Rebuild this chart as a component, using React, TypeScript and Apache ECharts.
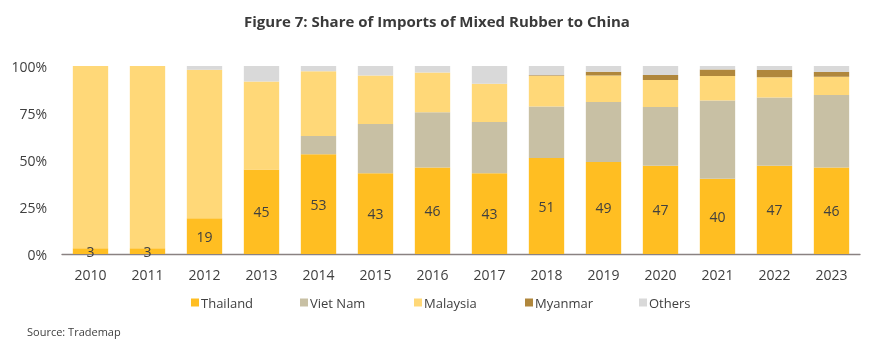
import React, { useEffect, useRef } from "react";
import * as echarts from "echarts";

const years = ["2010", "2011", "2012", "2013", "2014", "2015", "2016", "2017", "2018", "2019", "2020", "2021", "2022", "2023"];
const thailand = [3, 3, 19, 45, 53, 43, 46, 43, 51, 49, 47, 40, 47, 46];
const vietNam = [0, 0, 0, 0, 9.8, 26.1, 29.4, 27.2, 27.4, 31.9, 31.2, 41.7, 36.2, 38.6];
const malaysia = [97, 97, 79, 46.8, 34.4, 25.8, 21.1, 20.4, 16.3, 14.1, 14.4, 13, 10.8, 9.7];
const myanmar = [0, 0, 0, 0, 0, 0, 0, 0, 0.4, 2, 2.6, 3.5, 3.9, 2.5];
const others = [0, 0, 2, 8.2, 2.8, 5.1, 3.5, 9.4, 4.9, 3, 4.8, 1.8, 2.1, 3.2];
const seriesNames = ["Thailand", "Viet Nam", "Malaysia", "Myanmar", "Others"];
const yTicks = [0, 25, 50, 75, 100];

const FONT = "'Open Sans', sans-serif";
const TEXT = "#404040";
const legendLefts = [186, 295, 409, 520, 634];

export default function App() {
  const ref = useRef<HTMLDivElement>(null);
  useEffect(() => {
    if (!ref.current) return;
    const chart = echarts.init(ref.current, null, { renderer: "svg" });
    const mk = (name: string, data: number[], color: string, label = false) => ({
      name,
      type: "bar",
      stack: "total",
      data,
      barWidth: "62%",
      itemStyle: { color },
      label: label
        ? { show: true, position: "inside", color: TEXT, fontSize: 14, fontFamily: FONT }
        : { show: false },
      emphasis: { disabled: true },
    });
    chart.setOption({
      animation: false,
      textStyle: { fontFamily: FONT },
      title: {
        text: "Figure 7: Share of Imports of Mixed Rubber to China",
        left: 239,
        top: 8,
        textStyle: { fontFamily: FONT, fontSize: 15, fontWeight: "bold", color: "#3a3a3a" },
      },
      legend: seriesNames.map((n, i) => ({
        left: legendLefts[i],
        top: 291,
        itemWidth: 8,
        itemHeight: 8,
        icon: "rect",
        textStyle: { fontFamily: FONT, fontSize: 13, color: TEXT, padding: [0, 0, 0, -3] },
        data: [n],
      })),
      graphic: [
        {
          type: "text",
          left: 27,
          top: 326,
          style: { text: "Source: Trademap", fontFamily: FONT, fontSize: 11, fill: TEXT },
        },
      ],
      grid: { left: 62, right: 10, top: 66, bottom: 93 },
      xAxis: {
        type: "category",
        data: years,
        axisLine: { lineStyle: { color: "#8a8282", width: 1.3 } },
        axisTick: { show: false },
        axisLabel: { color: TEXT, fontSize: 14, fontFamily: FONT, margin: 13 },
      },
      yAxis: {
        type: "value",
        min: yTicks[0],
        max: yTicks[yTicks.length - 1],
        interval: 25,
        axisLine: { show: false },
        axisTick: { show: false },
        splitLine: { show: false },
        axisLabel: { color: TEXT, fontSize: 14, fontFamily: FONT, margin: 15, formatter: "{value}%" },
      },
      series: [
        mk("Thailand", thailand, "#FFBE22", true),
        mk("Viet Nam", vietNam, "#C8C0A4"),
        mk("Malaysia", malaysia, "#FFD878"),
        mk("Myanmar", myanmar, "#B0873C"),
        mk("Others", others, "#D9D9D9"),
      ],
    });
    return () => chart.dispose();
  }, []);
  return <div ref={ref} style={{ position: "fixed", left: 0, top: 0, width: 870, height: 347 }} />;
}
